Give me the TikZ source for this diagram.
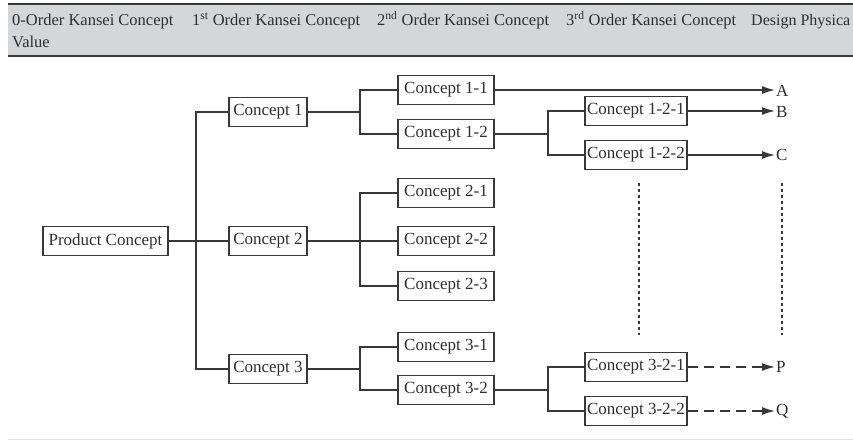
\documentclass[tikz,border=0pt]{standalone}
\usepackage{fontspec}
\setmainfont{Liberation Serif}
\usetikzlibrary{positioning,arrows.meta}

\definecolor{linegray}{HTML}{383838}
\definecolor{textgray}{HTML}{2E2E2E}
\definecolor{bandgray}{HTML}{D5D6D7}

\begin{document}
\begin{tikzpicture}[x=1pt, y=-1pt,
                    conceptnode/.style={rectangle, draw=linegray, line width=1.4pt, text=textgray, font=\fontsize{17}{19}\selectfont, inner xsep=2pt, inner ysep=0pt, minimum height=29pt},
                    headtext/.style={anchor=base west, text=textgray, font=\fontsize{16.5}{18}\selectfont, inner sep=0pt},
                    endnode/.style={anchor=west, text=textgray, font=\fontsize{17}{19}\selectfont, inner sep=1pt},
                    link/.style={draw=linegray, line width=1.4pt},
                    arrowlink/.style={link, -{Latex[length=13pt,width=8pt]}},
                ]
                    \useasboundingbox (0,0) rectangle (853,441);

                    %Header
                    \fill[bandgray] (8,4) rectangle (853,56);
                    \draw[linegray, line width=2.2pt] (8,4) -- (853,4);
                    \draw[linegray, line width=2.2pt] (8,56) -- (853,56);
                    \draw[black!12, line width=1pt] (8,439.5) -- (853,439.5);
                    \node[headtext](h0) at (12,26) {0-Order Kansei Concept};
                    \node[headtext](h0b) at (12,48) {Value};
                    \node[headtext](h1) at (192,26) {1\textsuperscript{st} Order Kansei Concept};
                    \node[headtext](h2) at (377,26) {2\textsuperscript{nd} Order Kansei Concept};
                    \node[headtext](h3) at (566,26) {3\textsuperscript{rd} Order Kansei Concept};
                    \node[headtext, font=\fontsize{16}{18}\selectfont](h4) at (751,26) {Design Physica};

                    %Nodes
                    \node[conceptnode, minimum width=125pt](prod) at (105.5,241) {Product Concept};
                    \node[conceptnode, minimum width=78pt](c1) at (268,112) {Concept 1};
                    \node[conceptnode, minimum width=78pt](c2) at (268,241) {Concept 2};
                    \node[conceptnode, minimum width=78pt](c3) at (268,369) {Concept 3};
                    \node[conceptnode, minimum width=96pt](c11) at (446,90) {Concept 1-1};
                    \node[conceptnode, minimum width=96pt](c12) at (446,134) {Concept 1-2};
                    \node[conceptnode, minimum width=96pt](c21) at (446,193) {Concept 2-1};
                    \node[conceptnode, minimum width=96pt](c22) at (446,241) {Concept 2-2};
                    \node[conceptnode, minimum width=96pt](c23) at (446,286) {Concept 2-3};
                    \node[conceptnode, minimum width=96pt](c31) at (446,347) {Concept 3-1};
                    \node[conceptnode, minimum width=96pt](c32) at (446,390) {Concept 3-2};
                    \node[conceptnode, minimum width=102pt](c121) at (636,111) {Concept 1-2-1};
                    \node[conceptnode, minimum width=102pt](c122) at (636,155) {Concept 1-2-2};
                    \node[conceptnode, minimum width=102pt](c321) at (636,367) {Concept 3-2-1};
                    \node[conceptnode, minimum width=102pt](c322) at (636,411) {Concept 3-2-2};
                    \node[endnode](va) at (775,91) {A};
                    \node[endnode](vb) at (775,112) {B};
                    \node[endnode](vc) at (775,155) {C};
                    \node[endnode](vp) at (775,367) {P};
                    \node[endnode](vq) at (775,411) {Q};

                    %Junctions
                    \coordinate (j0) at (196,241);
                    \coordinate (j1) at (360,112);
                    \coordinate (j2) at (360,241);
                    \coordinate (j3) at (360,369);
                    \coordinate (j4) at (548,134);
                    \coordinate (j5) at (548,390);
                    \coordinate (d1top) at (639,183);
                    \coordinate (d1bot) at (639,335);
                    \coordinate (d2top) at (782,183);
                    \coordinate (d2bot) at (782,335);

                    %Lines
                    \draw[link](prod.east) -- (c2.west);
                    \draw[link](c1.west) -| (j0) |- (c3.west);
                    \draw[link](c1.east) -- (j1);
                    \draw[link](c11.west) -| (j1) |- (c12.west);
                    \draw[link](c2.east) -- (c22.west);
                    \draw[link](c21.west) -| (j2) |- (c23.west);
                    \draw[link](c3.east) -- (j3);
                    \draw[link](c31.west) -| (j3) |- (c32.west);
                    \draw[link](c12.east) -- (j4);
                    \draw[link](c121.west) -| (j4) |- (c122.west);
                    \draw[link](c32.east) -- (j5);
                    \draw[link](c321.west) -| (j5) |- (c322.west);

                    %Arrows
                    \draw[arrowlink](c11.east) -- (va.west |- c11.east);
                    \draw[arrowlink](c121.east) -- (vb.west |- c121.east);
                    \draw[arrowlink](c122.east) -- (vc.west |- c122.east);
                    \draw[arrowlink, dash pattern=on 10pt off 6pt](c321.east) -- (vp.west |- c321.east);
                    \draw[arrowlink, dash pattern=on 10pt off 6pt](c322.east) -- (vq.west |- c322.east);

                    %Dots
                    \draw[link, line width=1.3pt, dash pattern=on 3pt off 3pt](d1top) -- (d1bot);
                    \draw[link, line width=1.3pt, dash pattern=on 3pt off 3pt](d2top) -- (d2bot);
                \end{tikzpicture}
\end{document}
